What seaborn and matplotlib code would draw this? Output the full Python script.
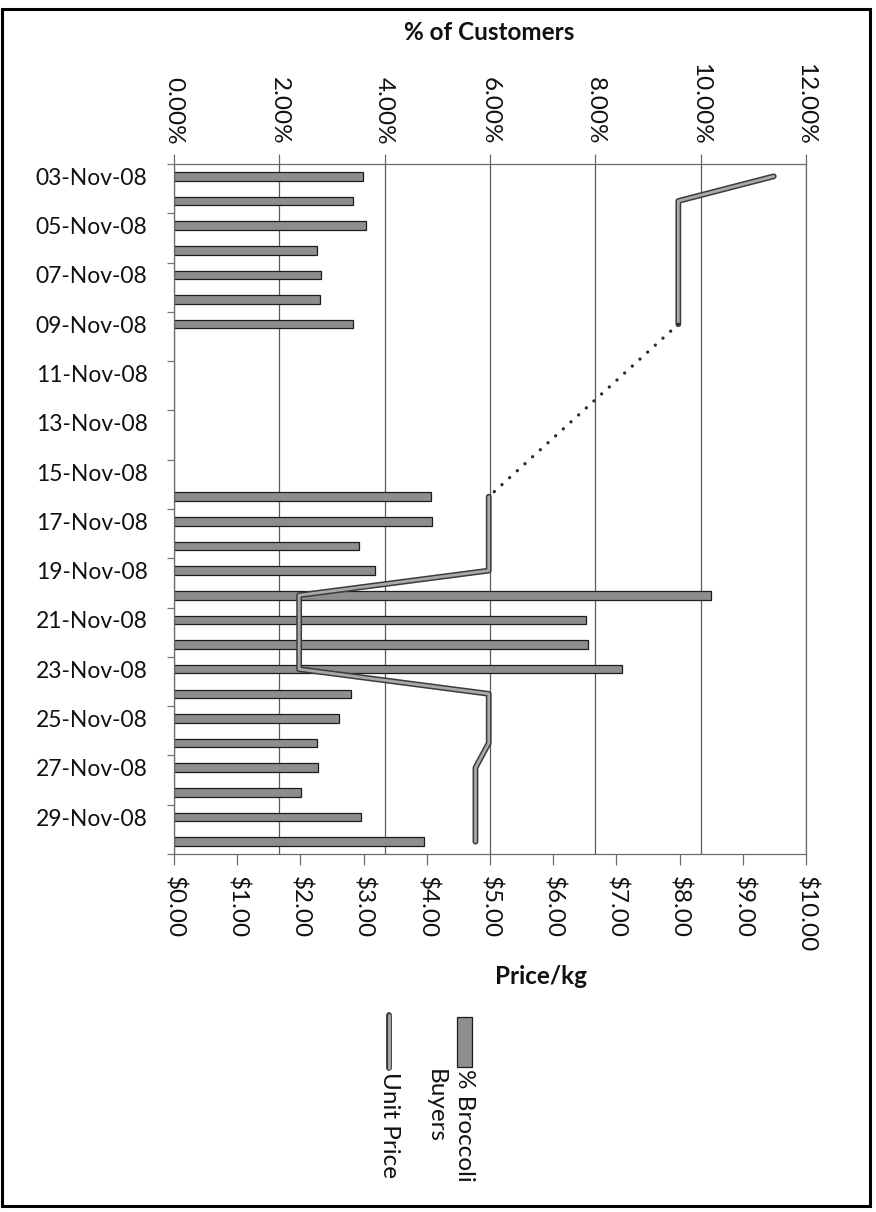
import numpy as np
import pandas as pd
import matplotlib
matplotlib.use("Agg")
import matplotlib.pyplot as plt
import matplotlib.patheffects as pe
from matplotlib.patches import Rectangle
from matplotlib.lines import Line2D
from matplotlib.ticker import FuncFormatter, FixedLocator
import seaborn as sns

# Daily figures, 3-30 Nov 2008 (no records for 10-15 Nov)
dates = [
    "03-Nov-08", "04-Nov-08", "05-Nov-08", "06-Nov-08", "07-Nov-08", "08-Nov-08",
    "09-Nov-08", "10-Nov-08", "11-Nov-08", "12-Nov-08", "13-Nov-08", "14-Nov-08",
    "15-Nov-08", "16-Nov-08", "17-Nov-08", "18-Nov-08", "19-Nov-08", "20-Nov-08",
    "21-Nov-08", "22-Nov-08", "23-Nov-08", "24-Nov-08", "25-Nov-08", "26-Nov-08",
    "27-Nov-08", "28-Nov-08", "29-Nov-08", "30-Nov-08",
]
nan = np.nan
pct_broccoli_buyers = [
    3.59, 3.39, 3.65, 2.72, 2.79, 2.77, 3.40,
    nan, nan, nan, nan, nan, nan,
    4.88, 4.89, 3.52, 3.81, 10.19, 7.83, 7.87, 8.51,
    3.36, 3.13, 2.71, 2.74, 2.41, 3.55, 4.75,
]
unit_price = [
    9.49, 7.98, 7.98, 7.98, 7.98, 7.98, 7.98,
    nan, nan, nan, nan, nan, nan,
    4.98, 4.98, 4.98, 4.98, 1.98, 1.98, 1.98, 1.98,
    4.98, 4.98, 4.98, 4.77, 4.77, 4.77, 4.77,
]
pct_ticks = [0, 2, 4, 6, 8, 10, 12]
price_ticks = [0, 1, 2, 3, 4, 5, 6, 7, 8, 9, 10]

sns.set_theme(style="white")
plt.rcParams["font.family"] = ["Lato", "DejaVu Sans"]

W, H = 876, 1212
fig = plt.figure(figsize=(W / 100, H / 100), dpi=100)
fig.patch.set_facecolor("white")

BAR_FACE = "#8e8e8e"
BAR_EDGE = "#1c1c1c"
LINE_CORE = "#a9a9a9"
LINE_EDGE = "#3c3c3c"
AXIS_GREY = "#6a6a6a"
TEXT = "#111111"


def fx(x):
    return x / W


def fy(y):
    return 1 - y / H


L, R, T, B = 174, 806, 164, 854
rect = [fx(L), fy(B), (R - L) / W, (B - T) / H]

# --- bars: share of customers buying broccoli (top axis) ---
ax = fig.add_axes(rect)
bars = pd.DataFrame({"date": dates, "pct": pct_broccoli_buyers}).dropna()
sns.barplot(data=bars, x="pct", y="date", order=dates, orient="h",
            color=BAR_FACE, saturation=1, width=0.35,
            edgecolor=BAR_EDGE, linewidth=0.9, ax=ax)
ax.set_xlim(0, 12)
ax.set_ylim(len(dates) - 0.5, -0.5)
ax.set_xlabel("")
ax.set_ylabel("")
ax.set_axisbelow(True)
ax.xaxis.tick_top()
ax.set_xticks(pct_ticks)
ax.xaxis.set_major_formatter(FuncFormatter(lambda v, _: f"{v:.2f}%"))
ax.grid(axis="x", color="#5a5a5a", linewidth=0.9)
ax.grid(axis="y", visible=False)
ax.tick_params(axis="x", which="major", top=True, bottom=False,
               labeltop=True, labelbottom=False, direction="out",
               length=7, width=0.9, color=AXIS_GREY, labelsize=17.5,
               labelrotation=-90, pad=7, labelcolor=TEXT)
ax.set_yticks(range(0, len(dates), 2))
ax.set_yticklabels(dates[::2])
ax.yaxis.set_minor_locator(FixedLocator(np.arange(-0.5, len(dates), 2)))
ax.tick_params(axis="y", which="major", left=True, length=0, pad=19,
               labelsize=16.5, labelcolor=TEXT)
ax.tick_params(axis="y", which="minor", left=True, length=5, width=0.9,
               color="#777777", direction="out")
for s in ax.spines.values():
    s.set_color(AXIS_GREY)
    s.set_linewidth(0.9)

# --- line: unit price per kg (bottom axis) ---
ax2 = fig.add_axes(rect, frameon=False)
ax2.patch.set_alpha(0)
price = pd.Series(unit_price, dtype=float)
line_df = pd.DataFrame({
    "pos": np.arange(len(dates)),
    "price": price,
    "seg": price.isna().cumsum(),
}).dropna()
outline = [pe.Stroke(linewidth=4.2, foreground=LINE_EDGE), pe.Normal()]
sns.lineplot(data=line_df, x="price", y="pos", units="seg", estimator=None,
             orient="y", sort=False, color=LINE_CORE, linewidth=2.0,
             legend=False, ax=ax2, path_effects=outline)

# dotted bridge across the days without records
valid = np.flatnonzero(~price.isna().to_numpy())
for g in np.flatnonzero(np.diff(valid) > 1):
    i0, i1 = valid[g], valid[g + 1]
    ax2.plot([unit_price[i0], unit_price[i1]], [i0, i1], color="#2a2a2a",
             linewidth=2.4, linestyle=(0, (0.01, 3.1)),
             dash_capstyle="round")

ax2.set_xlim(0, 10)
ax2.set_ylim(len(dates) - 0.5, -0.5)
ax2.set_xlabel("")
ax2.set_ylabel("")
ax2.set_yticks([])
ax2.xaxis.tick_bottom()
ax2.set_xticks(price_ticks)
ax2.xaxis.set_major_formatter(FuncFormatter(lambda v, _: f"${v:.2f}"))
ax2.tick_params(axis="x", bottom=True, top=False, labelbottom=True,
                labeltop=False, direction="out", length=8, width=0.9,
                color=AXIS_GREY, labelsize=17.5, labelrotation=-90, pad=8,
                labelcolor=TEXT)

# --- axis titles ---
fig.text(fx(489), fy(33), "% of Customers", ha="center", va="center",
         fontsize=17.5, fontweight="bold", color=TEXT)
fig.text(fx(541), fy(977), "Price/kg", ha="center", va="center",
         fontsize=17.5, fontweight="bold", color=TEXT)

# --- legend (rotated entries) ---
fig.add_artist(Rectangle((fx(457), fy(1067)), 15 / W, 50 / H,
                         transform=fig.transFigure, facecolor=BAR_FACE,
                         edgecolor=BAR_EDGE, linewidth=0.9))
fig.add_artist(Line2D([fx(389), fx(389)], [fy(1015), fy(1068)],
                      transform=fig.transFigure, color=LINE_CORE,
                      linewidth=2.0, path_effects=outline))
fig.text(fx(475), fy(1069), "% Broccoli\nBuyers", rotation=-90,
         ha="right", va="top", fontsize=17.5, multialignment="left",
         linespacing=1.5, color=TEXT)
fig.text(fx(400), fy(1072), "Unit Price", rotation=-90, ha="right",
         va="top", fontsize=17.5, color=TEXT)

# --- chart frame ---
fig.add_artist(Rectangle((fx(2), fy(1206)), 868 / W, (1206 - 9) / H,
                         transform=fig.transFigure, fill=False,
                         edgecolor="black", linewidth=2.2))

fig.savefig("out.png", dpi=100, facecolor="white")
